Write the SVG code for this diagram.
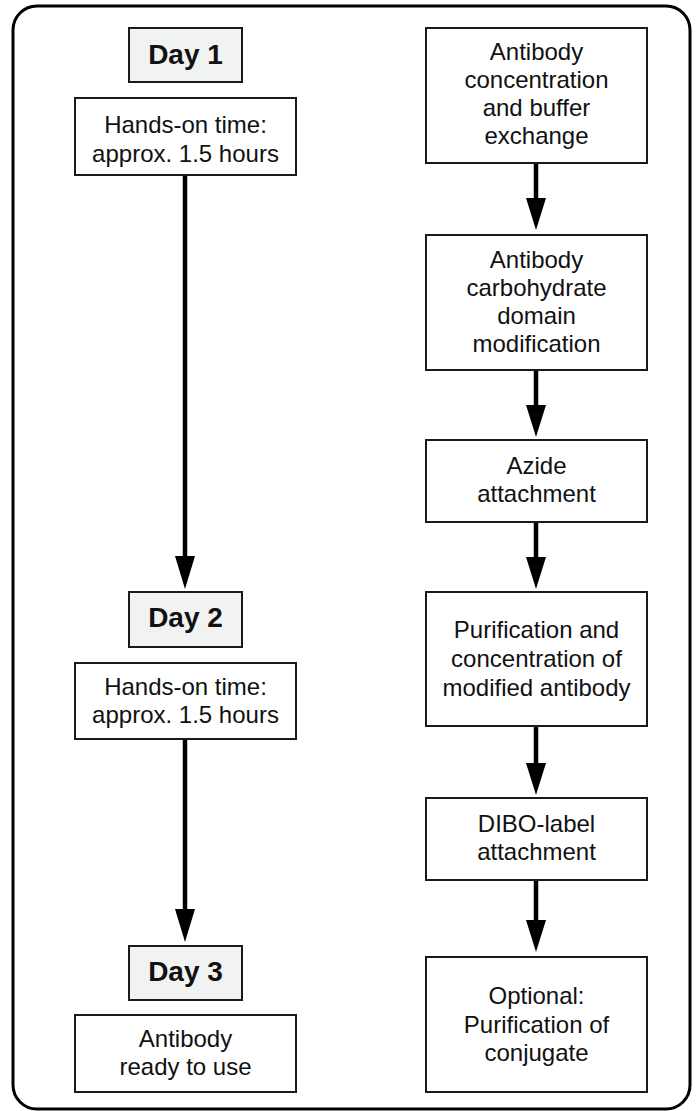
<svg xmlns="http://www.w3.org/2000/svg" width="697" height="1111" viewBox="0 0 697 1111">
<style>
.box{fill:#fff;stroke:#1a1a1a;stroke-width:2}
.day{fill:#f1f2f2;stroke:#1a1a1a;stroke-width:2}
.t{font-family:"Liberation Sans",Arial,sans-serif;font-size:24px;fill:#111;text-anchor:middle}
.d{font-family:"Liberation Sans",Arial,sans-serif;font-size:28px;font-weight:bold;fill:#111;text-anchor:middle}
.ln{stroke:#000;stroke-width:4.5;fill:none}
.hd{fill:#000}
</style>
<rect x="13" y="6" width="677" height="1103" rx="24" ry="24" fill="#fff" stroke="#000" stroke-width="3"/>
<g id="connectors">
<line class="ln" x1="185" y1="175" x2="185" y2="558"/><polygon class="hd" points="175,556 195,556 185,589"/>
<line class="ln" x1="185" y1="739" x2="185" y2="911"/><polygon class="hd" points="175,909 195,909 185,942"/>
<line class="ln" x1="536" y1="163" x2="536" y2="200"/><polygon class="hd" points="526,198 546,198 536,230"/>
<line class="ln" x1="536" y1="370" x2="536" y2="407"/><polygon class="hd" points="526,405 546,405 536,437"/>
<line class="ln" x1="536" y1="522" x2="536" y2="559"/><polygon class="hd" points="526,557 546,557 536,589"/>
<line class="ln" x1="536" y1="726" x2="536" y2="765"/><polygon class="hd" points="526,763 546,763 536,795"/>
<line class="ln" x1="536" y1="880" x2="536" y2="922"/><polygon class="hd" points="526,920 546,920 536,952"/>
</g>
<g id="day1"><rect class="day" x="129" y="28" width="113" height="54"/><text class="d" x="185.5" y="64">Day 1</text></g>
<g id="hands1"><rect class="box" x="75" y="98" width="221" height="77"/><text class="t" x="185.5" y="133">Hands-on time:</text><text class="t" x="185.5" y="162">approx. 1.5 hours</text></g>
<g id="day2"><rect class="day" x="129" y="592" width="113" height="55"/><text class="d" x="185.5" y="627">Day 2</text></g>
<g id="hands2"><rect class="box" x="75" y="663" width="221" height="76"/><text class="t" x="185.5" y="695">Hands-on time:</text><text class="t" x="185.5" y="723">approx. 1.5 hours</text></g>
<g id="day3"><rect class="day" x="129" y="946" width="113" height="54"/><text class="d" x="185.5" y="981">Day 3</text></g>
<g id="ready"><rect class="box" x="75" y="1015" width="221" height="77"/><text class="t" x="185.5" y="1047">Antibody</text><text class="t" x="185.5" y="1075">ready to use</text></g>
<g id="step1"><rect class="box" x="426" y="28" width="221" height="135"/><text class="t" x="536.5" y="60">Antibody</text><text class="t" x="536.5" y="88">concentration</text><text class="t" x="536.5" y="116">and buffer</text><text class="t" x="536.5" y="144">exchange</text></g>
<g id="step2"><rect class="box" x="426" y="235" width="221" height="135"/><text class="t" x="536.5" y="268">Antibody</text><text class="t" x="536.5" y="296">carbohydrate</text><text class="t" x="536.5" y="324">domain</text><text class="t" x="536.5" y="352">modification</text></g>
<g id="step3"><rect class="box" x="426" y="440" width="221" height="82"/><text class="t" x="536.5" y="474">Azide</text><text class="t" x="536.5" y="502">attachment</text></g>
<g id="step4"><rect class="box" x="426" y="592" width="221" height="134"/><text class="t" x="536.5" y="638">Purification and</text><text class="t" x="536.5" y="667">concentration of</text><text class="t" x="536.5" y="696">modified antibody</text></g>
<g id="step5"><rect class="box" x="426" y="798" width="221" height="82"/><text class="t" x="536.5" y="832">DIBO-label</text><text class="t" x="536.5" y="860">attachment</text></g>
<g id="step6"><rect class="box" x="426" y="957" width="221" height="135"/><text class="t" x="536.5" y="1004">Optional:</text><text class="t" x="536.5" y="1033">Purification of</text><text class="t" x="536.5" y="1061">conjugate</text></g>
</svg>
